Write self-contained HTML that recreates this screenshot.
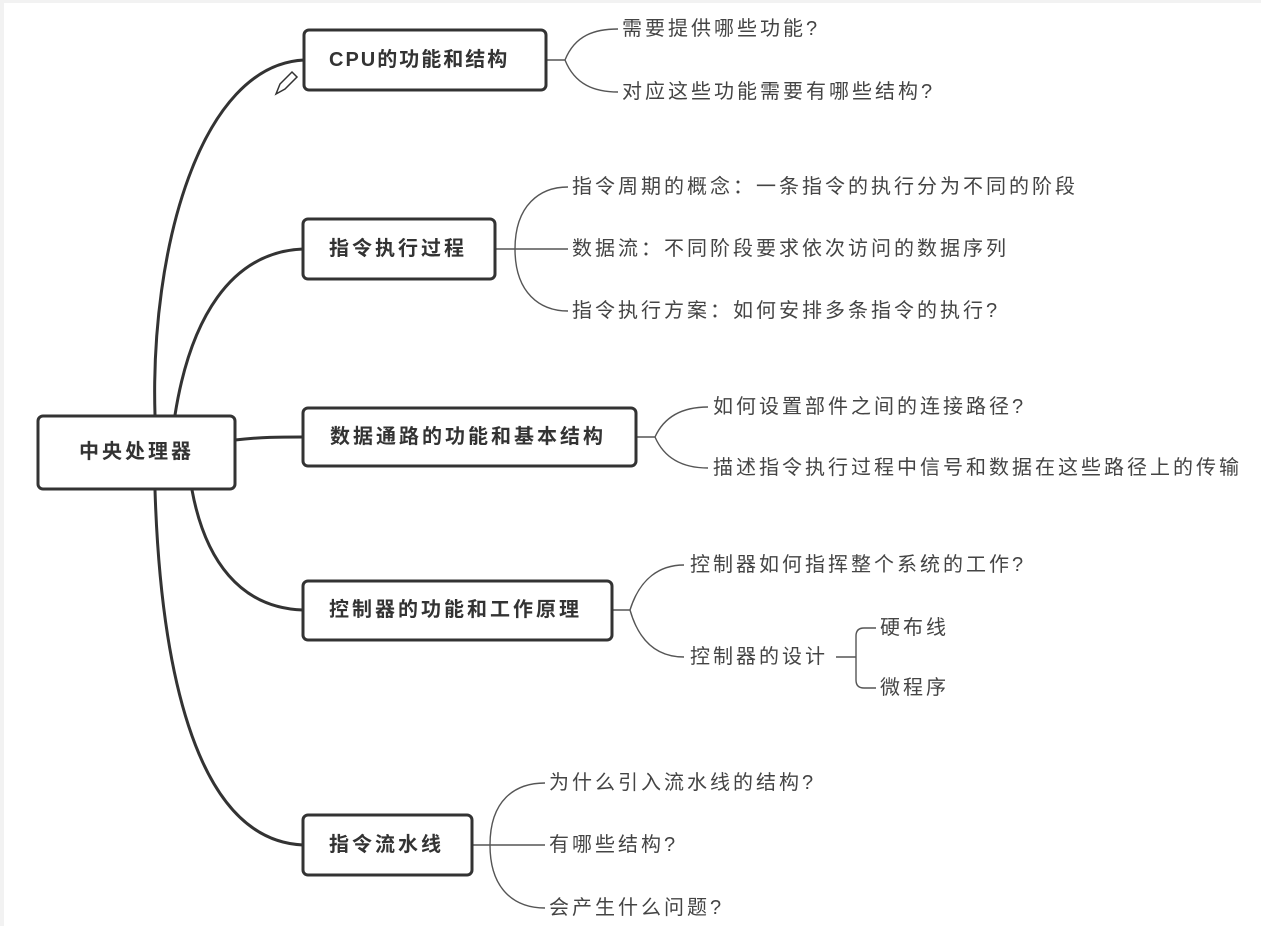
<!DOCTYPE html>
<html><head><meta charset="utf-8"><style>
html,body{margin:0;padding:0;background:#fff;}
svg{display:block}
text{font-family:"Liberation Sans","Noto Sans CJK SC",sans-serif;}
.b{font-size:20px;font-weight:bold;fill:#333;letter-spacing:3px}
.l{font-size:20px;fill:#444;letter-spacing:3px}
</style></head><body>
<svg width="1261" height="926" viewBox="0 0 1261 926" xmlns="http://www.w3.org/2000/svg">
<rect x="0" y="0" width="1261" height="926" fill="#fff"/>
<rect x="0" y="0" width="4" height="926" fill="#f2f2f2"/>
<rect x="0" y="0" width="1261" height="3" fill="#f2f2f2"/>
<g fill="none" stroke="#333" stroke-width="3">
<path d="M155 415 C150 250 200 65 304 60"/>
<path d="M175 415 C190 320 230 252 303 249"/>
<path d="M235 440 C260 437 280 437 303 437"/>
<path d="M192 490 C205 560 240 608 303 610"/>
<path d="M155 490 C160 650 190 840 303 845"/>
</g>
<g fill="none" stroke="#555" stroke-width="1.4">
<path d="M546 60 H565 C575 35 595 29 618 29 M565 60 C575 85 595 92 618 92"/>
<path d="M495 249 H568 M515 249 C515 205 540 187 568 187 M515 249 C515 293 540 311 568 311"/>
<path d="M636 437 H655 C665 415 685 407 708 407 M655 437 C665 460 685 468 708 468"/>
<path d="M612 610 H630 C640 578 660 565 684 565 M630 610 C640 645 660 657 684 657"/>
<path d="M836 657 H856 M876 628 H864 Q856 628 856 636 V680 Q856 688 864 688 H876"/>
<path d="M472 845 H545 M490 845 C490 800 515 783 545 783 M490 845 C490 890 515 908 545 908"/>
</g>
<g fill="#fff" stroke="#333" stroke-width="3">
<rect x="304" y="30" width="242" height="60" rx="5"/>
<rect x="303" y="219" width="192" height="60" rx="5"/>
<rect x="38" y="416" width="197" height="73" rx="5"/>
<rect x="303" y="408" width="333" height="58" rx="5"/>
<rect x="303" y="581" width="309" height="59" rx="5"/>
<rect x="303" y="815" width="169" height="60" rx="5"/>
</g>
<path d="M276 94 L280 84 L292 72 L297 77 L285 89 Z" fill="none" stroke="#333" stroke-width="1.5"/>
<g dominant-baseline="central">
<text class="b" x="329" y="60" style="letter-spacing:2px">CPU的功能和结构</text>
<text class="b" x="329" y="249">指令执行过程</text>
<text class="b" x="79" y="452">中央处理器</text>
<text class="b" x="330" y="437">数据通路的功能和基本结构</text>
<text class="b" x="329" y="610">控制器的功能和工作原理</text>
<text class="b" x="329" y="845">指令流水线</text>
<text class="l" x="622" y="29">需要提供哪些功能?</text>
<text class="l" x="622" y="92">对应这些功能需要有哪些结构?</text>
<text class="l" x="572" y="187">指令周期的概念：一条指令的执行分为不同的阶段</text>
<text class="l" x="572" y="249">数据流：不同阶段要求依次访问的数据序列</text>
<text class="l" x="572" y="311">指令执行方案：如何安排多条指令的执行?</text>
<text class="l" x="713" y="407">如何设置部件之间的连接路径?</text>
<text class="l" x="713" y="468">描述指令执行过程中信号和数据在这些路径上的传输</text>
<text class="l" x="690" y="565">控制器如何指挥整个系统的工作?</text>
<text class="l" x="690" y="657">控制器的设计</text>
<text class="l" x="880" y="628">硬布线</text>
<text class="l" x="880" y="688">微程序</text>
<text class="l" x="549" y="783">为什么引入流水线的结构?</text>
<text class="l" x="549" y="845">有哪些结构?</text>
<text class="l" x="549" y="908">会产生什么问题?</text>
</g>
</svg>
</body></html>
